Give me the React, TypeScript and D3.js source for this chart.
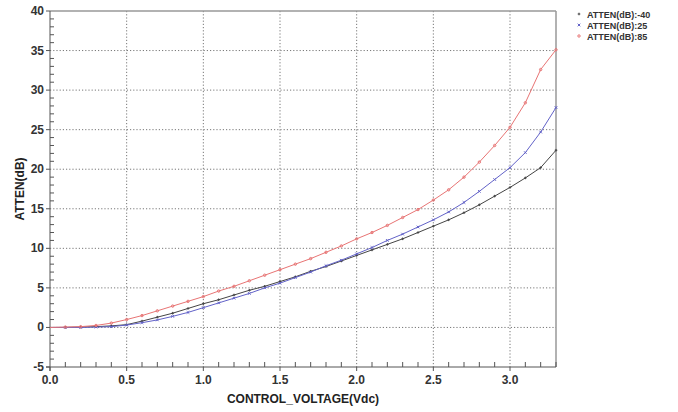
import * as d3 from "d3";

// control voltage samples (Vdc)
const voltages = [0.0, 0.1, 0.2, 0.3, 0.4, 0.5, 0.6, 0.7, 0.8, 0.9, 1.0, 1.1, 1.2, 1.3, 1.4, 1.5, 1.6, 1.7, 1.8, 1.9, 2.0, 2.1, 2.2, 2.3, 2.4, 2.5, 2.6, 2.7, 2.8, 2.9, 3.0, 3.1, 3.2, 3.3];

// attenuation (dB) per temperature
const attenM40 = [0.0, 0.0, 0.05, 0.1, 0.2, 0.35, 0.8, 1.3, 1.8, 2.4, 3.0, 3.5, 4.1, 4.7, 5.2, 5.8, 6.4, 7.1, 7.7, 8.4, 9.1, 9.8, 10.5, 11.2, 12.0, 12.8, 13.6, 14.5, 15.5, 16.6, 17.7, 18.9, 20.2, 22.4];
const atten25 = [0.0, 0.0, 0.0, 0.05, 0.1, 0.3, 0.6, 0.95, 1.4, 1.9, 2.5, 3.1, 3.7, 4.3, 5.0, 5.6, 6.3, 7.0, 7.8, 8.5, 9.3, 10.1, 11.0, 11.8, 12.7, 13.6, 14.6, 15.8, 17.2, 18.7, 20.2, 22.1, 24.7, 27.8];
const atten85 = [0.0, 0.05, 0.1, 0.25, 0.55, 1.0, 1.5, 2.1, 2.7, 3.3, 3.9, 4.6, 5.2, 5.9, 6.6, 7.3, 8.0, 8.7, 9.5, 10.3, 11.2, 12.0, 12.9, 13.9, 14.9, 16.1, 17.4, 19.0, 20.9, 23.0, 25.3, 28.4, 32.6, 35.1];

const seriesNames = ["ATTEN(dB):-40", "ATTEN(dB):25", "ATTEN(dB):85"];
const xTicks = [0.0, 0.5, 1.0, 1.5, 2.0, 2.5, 3.0];
const yTicks = [-5, 0, 5, 10, 15, 20, 25, 30, 35, 40];

const W = 678;
const H = 412;
const left = 50;
const right = 556;
const top = 11;
const bottom = 367;

const Marker = ({ kind, x, y, color }: { kind: string; x: number; y: number; color: string }) => {
  const s = 1.3;
  if (kind === "plus")
    return <path d={`M${x - s},${y}H${x + s}M${x},${y - s}V${y + s}`} stroke={color} strokeWidth={1} />;
  if (kind === "cross")
    return <path d={`M${x - s},${y - s}L${x + s},${y + s}M${x - s},${y + s}L${x + s},${y - s}`} stroke={color} strokeWidth={1} />;
  return <circle cx={x} cy={y} r={1.2} fill="none" stroke={color} strokeWidth={1} />;
};

export default function App() {
  const x = d3.scaleLinear().domain([0, 3.3]).range([left, right]);
  const y = d3.scaleLinear().domain([-5, 40]).range([bottom, top]);

  const series = [
    { name: seriesNames[0], values: attenM40, color: "#444444", kind: "plus" },
    { name: seriesNames[1], values: atten25, color: "#6262c8", kind: "cross" },
    { name: seriesNames[2], values: atten85, color: "#e87474", kind: "circle" },
  ];

  const line = d3.line<number>()
    .x((_, i) => x(voltages[i]))
    .y((d) => y(d));

  const xMinor = d3.range(1, 34).map((i) => i / 10).filter((v) => Math.abs(v * 2 - Math.round(v * 2)) > 1e-6);
  const yMinor = d3.range(-4, 40).filter((v) => v % 5 !== 0);

  const font = "Arial, 'Liberation Sans', sans-serif";

  return (
    <svg width={W} height={H} style={{ position: "absolute", left: 0, top: 0, background: "#fff" }} fontFamily={font}>
      {/* grid */}
      {yTicks.filter((t) => t > -5 && t < 40).map((t) => (
        <line key={"gy" + t} x1={left} x2={right} y1={y(t)} y2={y(t)} stroke="#777" strokeDasharray="1.2,2" />
      ))}
      {xTicks.filter((t) => t > 0).map((t) => (
        <line key={"gx" + t} x1={x(t)} x2={x(t)} y1={top} y2={bottom} stroke="#777" strokeDasharray="1.2,2" />
      ))}

      {/* frame */}
      <line x1={left} x2={right} y1={top} y2={top} stroke="#999" strokeWidth={1.5} />
      <line x1={right} x2={right} y1={top} y2={bottom} stroke="#999" strokeWidth={1.5} />
      <line x1={left} x2={left} y1={top} y2={bottom + 4} stroke="#555" />
      <line x1={left - 4} x2={right} y1={bottom} y2={bottom} stroke="#555" />

      {/* y ticks */}
      {yTicks.map((t) => (
        <g key={"yt" + t}>
          <line x1={left - 4} x2={left} y1={y(t)} y2={y(t)} stroke="#555" />
          <text x={left - 6} y={y(t) + 4} textAnchor="end" fontSize={12} fontWeight="bold" fill="#333">{t}</text>
        </g>
      ))}
      {yMinor.map((t) => (
        <line key={"ym" + t} x1={left} x2={left + 4} y1={y(t)} y2={y(t)} stroke="#555" />
      ))}

      {/* x ticks */}
      {xTicks.map((t) => (
        <g key={"xt" + t}>
          <line x1={x(t)} x2={x(t)} y1={bottom} y2={bottom + 4} stroke="#555" />
          <text x={x(t)} y={bottom + 17} textAnchor="middle" fontSize={12} fontWeight="bold" fill="#333">{t.toFixed(1)}</text>
        </g>
      ))}
      {xMinor.map((t) => (
        <line key={"xm" + t} x1={x(t)} x2={x(t)} y1={bottom - 5} y2={bottom} stroke="#555" />
      ))}

      {/* series */}
      {series.map((s) => (
        <g key={s.name}>
          <path d={line(s.values) || ""} fill="none" stroke={s.color} strokeWidth={1} />
          {s.values.map((v, i) => (
            i > 0 ? <Marker key={i} kind={s.kind} x={x(voltages[i])} y={y(v)} color={s.color} /> : null
          ))}
        </g>
      ))}

      {/* axis titles */}
      <text transform={`translate(24, ${(top + bottom) / 2}) rotate(-90)`} textAnchor="middle" fontSize={12} fontWeight="bold" fill="#222">ATTEN(dB)</text>
      <text x={(left + right) / 2} y={403} textAnchor="middle" fontSize={12} fontWeight="bold" fill="#222">CONTROL_VOLTAGE(Vdc)</text>

      {/* legend */}
      {series.map((s, i) => (
        <g key={"lg" + i}>
          <Marker kind={s.kind} x={579} y={14 + i * 11} color={s.color} />
          <text x={587} y={17.5 + i * 11} fontSize={9} fontWeight="bold" fill="#333">{s.name}</text>
        </g>
      ))}
    </svg>
  );
}
